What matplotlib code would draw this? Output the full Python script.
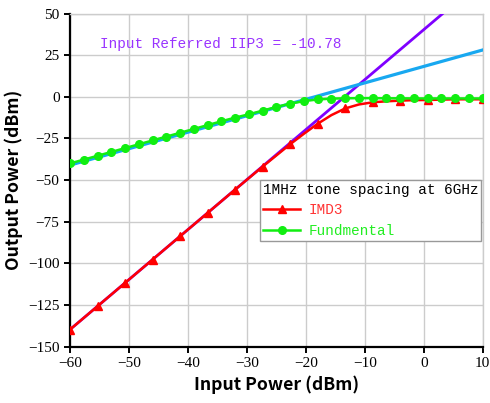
import numpy as np
import matplotlib
matplotlib.use("Agg")
import matplotlib.pyplot as plt

# ---- data ----
pin = np.linspace(-60, 10, 31)
fund = [-40.0, -37.7, -35.4, -33.1, -30.8, -28.5, -26.2, -23.9, -21.6, -19.3,
        -17.0, -14.7, -12.5, -10.5, -8.3, -6.1, -4.1, -2.6, -1.6, -1.1,
        -0.9, -0.8, -0.8, -0.9, -0.9, -1.0, -1.0, -1.0, -1.0, -1.0, -1.0]
imd3 = [-139.7, -132.7, -125.7, -118.7, -111.7, -104.7, -97.7, -90.7, -83.7, -76.7,
        -69.7, -62.7, -55.7, -48.8, -41.9, -35.2, -28.5, -22.2, -16.2, -11.0,
        -7.0, -4.6, -3.3, -2.7, -2.3, -2.0, -1.9, -1.7, -1.5, -1.5, -1.5]
fund_ext_x = [-60, 10]
fund_ext_y = [-41.0, 28.1]
imd3_ext_x = [-60, 3.3]
imd3_ext_y = [-139.7, 50.2]
iip3 = -10.78
xticks = [-60, -50, -40, -30, -20, -10, 0, 10]
yticks = [-150, -125, -100, -75, -50, -25, 0, 25, 50]

mono = "Liberation Mono"
serif = "Liberation Serif"

fig = plt.figure(figsize=(4.9, 4.03), dpi=100)
ax = fig.add_axes([0.1429, 0.1397, 0.8422, 0.8268])

ax.plot(imd3_ext_x, imd3_ext_y, color="#7F00FF", lw=2.0, zorder=3)
ax.plot(fund_ext_x, fund_ext_y, color="#18A8F0", lw=2.3, zorder=3)
ax.plot(pin, imd3, color="#FF0000", lw=1.8, marker="^", markersize=6,
        markevery=2, label="IMD3", zorder=4)
ax.plot(pin, fund, color="#11EE11", lw=1.8, marker="o", markersize=5.5,
        label="Fundmental", zorder=5)

ax.text(-54.9, 31.7, "Input Referred IIP3 = %.2f" % iip3, color="#9933FF",
        fontsize=10.4, family=mono, ha="left", va="center")

ax.set_xlim(-60, 10)
ax.set_ylim(-150, 50)
ax.set_xticks(xticks)
ax.set_yticks(yticks)
ax.grid(True, color="#CCCCCC", lw=1.0)
ax.set_axisbelow(True)
for s in ["top", "right"]:
    ax.spines[s].set_color("#CCCCCC")
    ax.spines[s].set_linewidth(1.0)
for s in ["left", "bottom"]:
    ax.spines[s].set_color("black")
    ax.spines[s].set_linewidth(1.6)
ax.tick_params(direction="out", length=4.5, width=1.4, labelsize=11, pad=3)
for lab in ax.get_xticklabels() + ax.get_yticklabels():
    lab.set_family(serif)

ax.set_xlabel("Input Power (dBm)", fontsize=12.7, fontweight="bold",
              family="Noto Sans CJK SC", labelpad=4)
ax.set_ylabel("Output Power (dBm)", fontsize=12.7, fontweight="bold",
              family="Noto Sans CJK SC", labelpad=4)

leg = ax.legend(loc="upper left", bbox_to_anchor=(0.46, 0.5), borderaxespad=0,
                title="1MHz tone spacing at 6GHz", fancybox=False,
                edgecolor="#999999", framealpha=1, handlelength=2.6,
                handletextpad=0.55, labelspacing=0.45, borderpad=0.2,
                prop={"family": mono, "size": 10.4},
                title_fontproperties={"family": mono, "size": 10.4})
leg.get_frame().set_linewidth(1.0)
leg._legend_box.align = "left"
for t, c in zip(leg.get_texts(), ["#FF3333", "#22EE22"]):
    t.set_color(c)

fig.savefig("out.png", dpi=100)
